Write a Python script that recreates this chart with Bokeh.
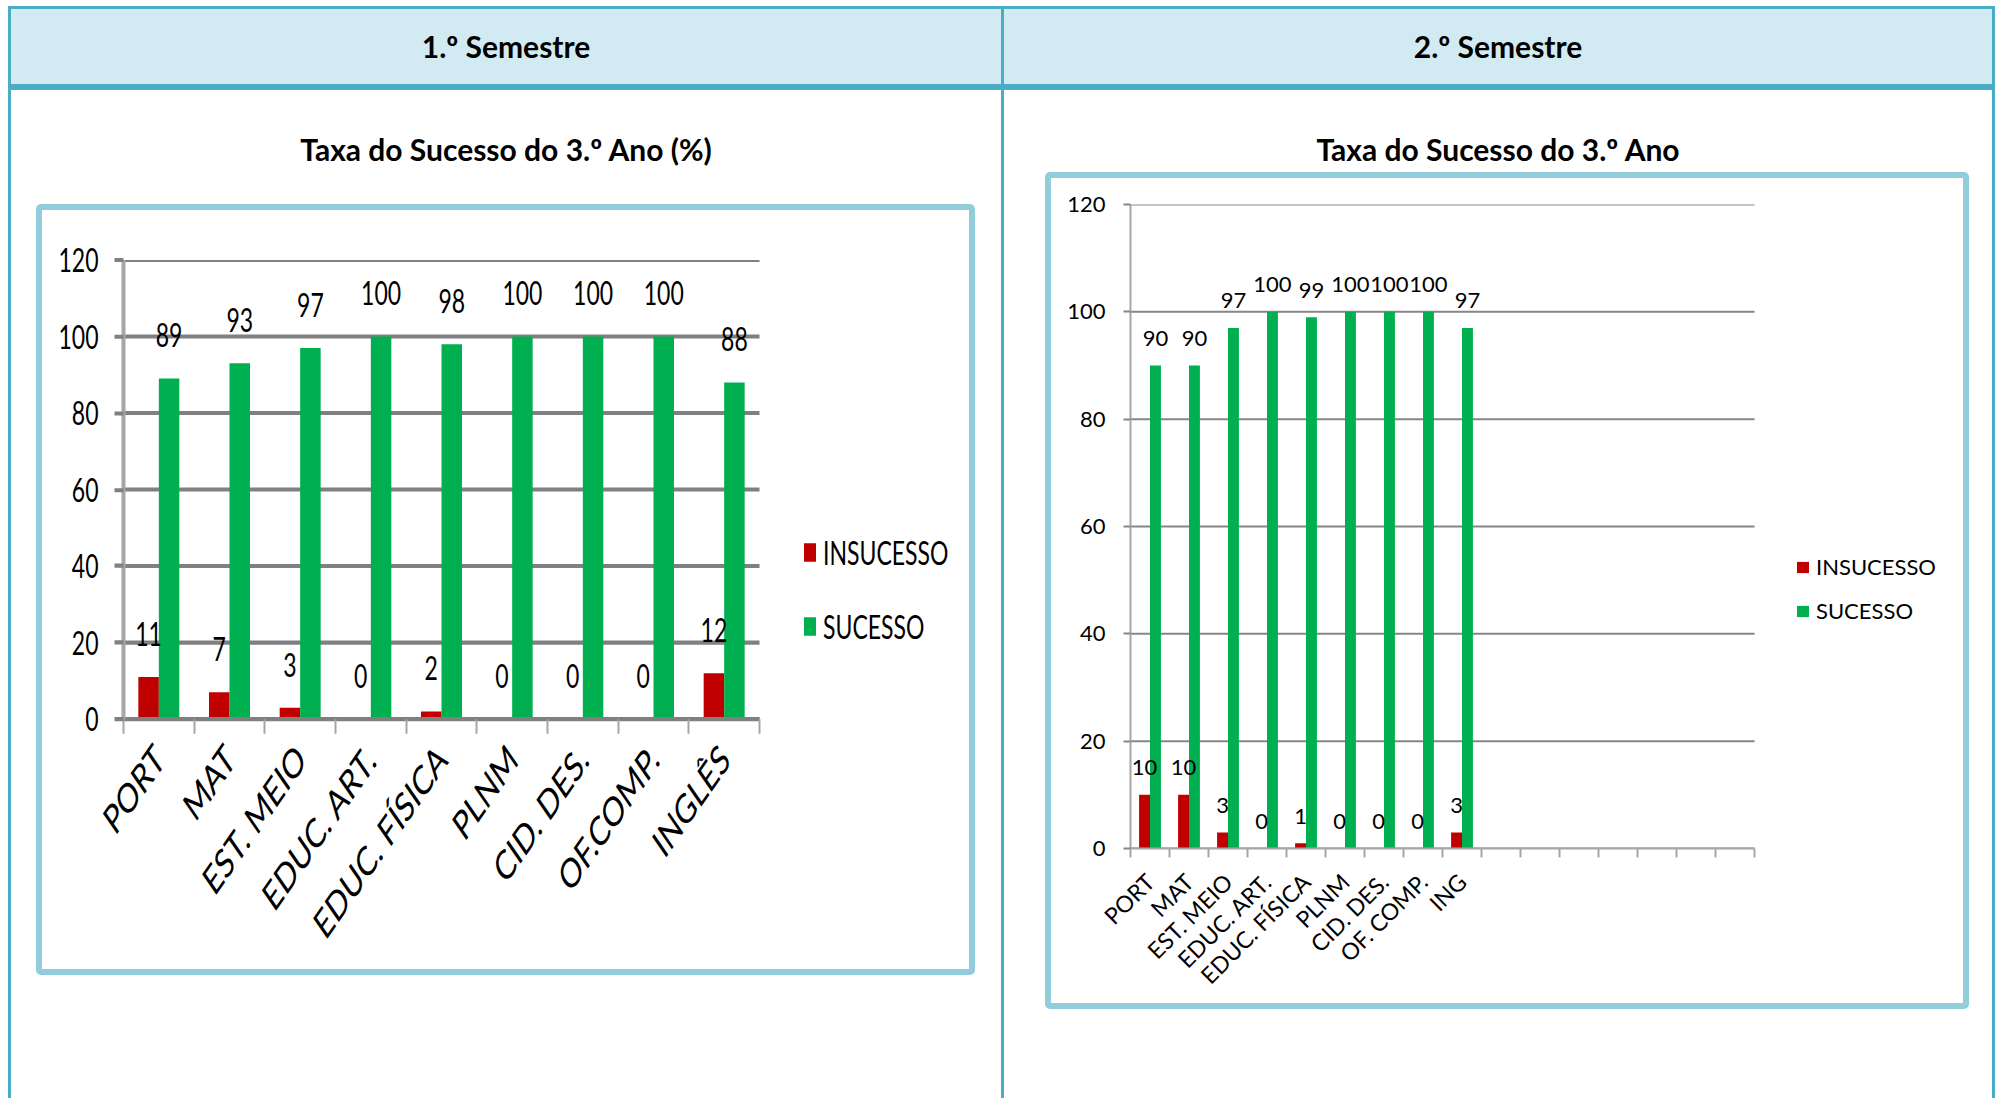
from bokeh.plotting import figure
from bokeh.models import (ColumnDataSource, FixedTicker, Legend, LegendItem, Div,
                          Spacer, Range1d, InlineStyleSheet)
from bokeh.layouts import row, column
from bokeh.transform import dodge
from bokeh.embed import file_html
from bokeh.resources import INLINE
from bokeh.core.properties import value
import math

# ---------------- data ----------------
semestres = ["1.º Semestre", "2.º Semestre"]
titulos = ["Taxa do Sucesso do 3.º Ano (%)", "Taxa do Sucesso do 3.º Ano"]
series = ["INSUCESSO", "SUCESSO"]

disciplinas_1 = ["PORT", "MAT", "EST. MEIO", "EDUC. ART.", "EDUC. FÍSICA",
                 "PLNM", "CID. DES.", "OF.COMP.", "INGLÊS"]
insucesso_1 = [11, 7, 3, 0, 2, 0, 0, 0, 12]
sucesso_1 = [89, 93, 97, 100, 98, 100, 100, 100, 88]

disciplinas_2 = ["PORT", "MAT", "EST. MEIO", "EDUC. ART.", "EDUC. FÍSICA",
                 "PLNM", "CID. DES.", "OF. COMP.", "ING"]
n_categorias_2 = 16          # the axis holds 16 slots, 7 of them empty
insucesso_2 = [10, 10, 3, 0, 1, 0, 0, 0, 3]
sucesso_2 = [90, 90, 97, 100, 99, 100, 100, 100, 97]

y_ticks = [0, 20, 40, 60, 80, 100, 120]

RED = "#c00000"
GREEN = "#00b050"
TEAL = "#4bacc6"
BOXBLUE = "#92cddc"
HEADBG = "#d2eaf1"
LATO = "Lato, Carlito, sans-serif"


def make_chart(cats, ins, suc, ncat, W, H, mb, axis_px, bw, font, tick_fs, xlab_fs,
               lab_fs, lab_off, angle, grid_w, grid_col, yaxis_w, yaxis_col, xaxis_w,
               xaxis_col, ytick_out, ystand, xtick_out, xstand, leg_loc, glyph_w,
               glyph_h, leg_fs, leg_lh, leg_sp, stylesheets=None):
    frame_w = W - mb[0] - mb[1]
    x_end = ncat * frame_w / axis_px      # the category axis only spans axis_px pixels
    kw = {}
    if stylesheets:
        kw["stylesheets"] = stylesheets
    p = figure(width=W, height=H, x_range=Range1d(0, x_end), y_range=Range1d(0, 120),
               output_backend="svg", toolbar_location=None,
               min_border_left=mb[0], min_border_right=mb[1],
               min_border_top=mb[2], min_border_bottom=mb[3], **kw)
    p.background_fill_color = None
    p.border_fill_color = None
    p.outline_line_color = None

    # horizontal grid lines, only over the category area
    p.xgrid.visible = False
    p.ygrid.visible = False
    p.segment(x0=0, x1=ncat, y0=y_ticks, y1=y_ticks, line_color=grid_col,
              line_width=grid_w)

    idx = list(range(len(cats)))
    src = ColumnDataSource(dict(
        xi=[i + 0.5 for i in idx], ins=ins, suc=suc,
        ins_lab=[str(v) for v in ins], suc_lab=[str(v) for v in suc]))

    r1 = p.vbar(x=dodge("xi", -bw / 2), top="ins", width=bw, source=src,
                fill_color=RED, line_color=None)
    r2 = p.vbar(x=dodge("xi", bw / 2), top="suc", width=bw, source=src,
                fill_color=GREEN, line_color=None)
    for col, off in (("ins", -bw / 2), ("suc", bw / 2)):
        p.text(x=dodge("xi", off), y=col, text=col + "_lab", source=src,
               text_align="center", text_baseline="middle", y_offset=-lab_off,
               text_font=value(font), text_font_size=f"{lab_fs}px", text_color="#000000")

    # y axis
    ya = p.yaxis[0]
    ya.ticker = FixedTicker(ticks=y_ticks)
    ya.axis_line_color = yaxis_col
    ya.axis_line_width = yaxis_w
    ya.major_tick_in = 0
    ya.major_tick_out = ytick_out
    ya.major_tick_line_color = grid_col
    ya.major_tick_line_width = grid_w
    ya.minor_tick_line_color = None
    ya.major_label_standoff = ystand
    ya.major_label_text_font = font
    ya.major_label_text_font_size = f"{tick_fs}px"
    ya.major_label_text_color = "#000000"

    # x axis: labels at slot centres, tick marks at slot boundaries
    xa = p.xaxis[0]
    xa.bounds = (0, ncat)
    xa.ticker = FixedTicker(ticks=[i + 0.5 for i in idx],
                            minor_ticks=list(range(ncat + 1)))
    xa.major_label_overrides = {i + 0.5: c for i, c in zip(idx, cats)}
    xa.major_tick_in = 0
    xa.major_tick_out = 0
    xa.minor_tick_in = 0
    xa.minor_tick_out = xtick_out
    xa.minor_tick_line_color = yaxis_col
    xa.minor_tick_line_width = 2
    xa.axis_line_color = xaxis_col
    xa.axis_line_width = xaxis_w
    xa.major_label_orientation = angle
    xa.major_label_standoff = xstand
    xa.major_label_text_font = font
    xa.major_label_text_font_size = f"{xlab_fs}px"
    xa.major_label_text_color = "#000000"

    legend = Legend(items=[LegendItem(label=series[0], renderers=[r1]),
                           LegendItem(label=series[1], renderers=[r2])],
                    location=leg_loc, orientation="vertical", padding=0, margin=0,
                    spacing=leg_sp, glyph_width=glyph_w, glyph_height=glyph_h,
                    label_height=leg_lh, label_standoff=6,
                    label_text_font=font, label_text_font_size=f"{leg_fs}px",
                    label_text_color="#000000", label_text_baseline="middle",
                    border_line_color=None, background_fill_alpha=0)
    p.add_layout(legend)
    return p


def boxed(inner_el, w, h):
    inner = row(Spacer(width=6, height=h), inner_el, Spacer(width=6, height=h))
    return column(Spacer(width=w + 12, height=6), inner, Spacer(width=w + 12, height=6),
                  styles={"background-color": BOXBLUE, "border-radius": "5px"})


def header(text, w, h):
    return Div(text=(f'<div style="width:{w}px;height:{h}px;line-height:{h}px;'
                     f'text-align:center;font-family:{LATO};font-weight:bold;'
                     f'font-size:30px;color:#000;">{text}</div>'),
               width=w, height=h, margin=0, styles={"background-color": HEADBG})


def title_div(text, w, h):
    return Div(text=(f'<div style="width:{w}px;padding-top:42px;line-height:34px;'
                     f'text-align:center;font-family:{LATO};font-weight:bold;'
                     f'font-size:30px;color:#000;">{text}</div>'),
               width=w, height=h, margin=0)


# ---------------- charts ----------------
# The first chart is shown vertically stretched, as in the source picture.
H1_REAL, H1 = 759, 524
S1 = H1_REAL / H1
stretch = InlineStyleSheet(css=(
    ":host { overflow: visible !important; }\n"
    f".bk-Canvas {{ transform: scaleY({S1:.4f}); transform-origin: 0 0; }}"))

fig1 = make_chart(disciplinas_1, insucesso_1, sucesso_1, len(disciplinas_1),
                  W=927, H=H1, mb=(81, 10, 34, 171), axis_px=636, bw=0.29, font=LATO,
                  tick_fs=23, xlab_fs=28, lab_fs=23, lab_off=30, angle=math.pi / 4,
                  grid_w=2.8, grid_col="#808080", yaxis_w=4, yaxis_col="#a6a6a6",
                  xaxis_w=2.8, xaxis_col="#808080", ytick_out=9, ystand=16,
                  xtick_out=10, xstand=12, leg_loc=(679, 50), glyph_w=15, glyph_h=16,
                  leg_fs=23, leg_lh=16, leg_sp=23, stylesheets=[stretch])
fig1_holder = column(fig1, Spacer(width=927, height=H1_REAL - H1),
                     styles={"background-color": "white"})

fig2 = make_chart(disciplinas_2, insucesso_2, sucesso_2, n_categorias_2,
                  W=912, H=825, mb=(79, 10, 26, 155), axis_px=624, bw=0.28, font=LATO,
                  tick_fs=22, xlab_fs=23, lab_fs=22, lab_off=27, angle=math.pi / 4,
                  grid_w=2, grid_col="#868686", yaxis_w=2, yaxis_col="#a6a6a6",
                  xaxis_w=2, xaxis_col="#a6a6a6", ytick_out=7, ystand=18,
                  xtick_out=9, xstand=20, leg_loc=(665, 224), glyph_w=15, glyph_h=14,
                  leg_fs=22, leg_lh=22, leg_sp=17)
fig2_holder = column(fig2, styles={"background-color": "white"})

# ---------------- table layout ----------------
WL, WR = 990, 988
HH, HB = 75, 1008

box1 = boxed(fig1_holder, 927, 759)      # 939 x 771
box2 = boxed(fig2_holder, 912, 825)      # 924 x 837

body1 = column(title_div(titulos[0], WL, 114),
               row(Spacer(width=25, height=771), box1, Spacer(width=26, height=771)),
               Spacer(width=WL, height=HB - 114 - 771),
               styles={"background-color": "white"})
body2 = column(title_div(titulos[1], WR, 82),
               row(Spacer(width=41, height=837), box2, Spacer(width=WR - 41 - 924, height=837)),
               Spacer(width=WR, height=HB - 82 - 837),
               styles={"background-color": "white"})

total_w = 3 + WL + 3 + WR + 3
head_row = row(Spacer(width=3, height=HH), header(semestres[0], WL, HH),
               Spacer(width=3, height=HH), header(semestres[1], WR, HH),
               Spacer(width=3, height=HH))
body_row = row(Spacer(width=3, height=HB), body1, Spacer(width=3, height=HB), body2,
               Spacer(width=3, height=HB))

table = column(Spacer(width=total_w, height=3), head_row,
               Spacer(width=total_w, height=6), body_row,
               styles={"background-color": TEAL})

page = column(Spacer(width=total_w + 8, height=6),
              row(Spacer(width=8, height=3 + HH + 6 + HB), table))

open("out.html", "w").write(file_html(page, INLINE))
